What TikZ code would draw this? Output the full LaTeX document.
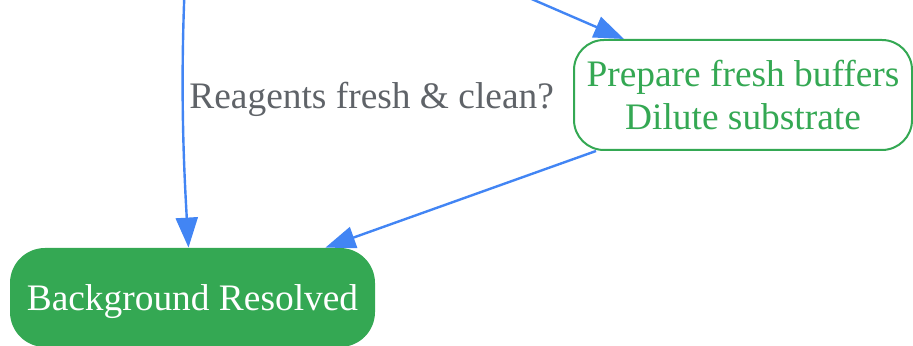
\documentclass[tikz,border=0pt]{standalone}
\usepackage{fontspec}
\setmainfont{Liberation Serif}
\usepackage{tikz}
\usepackage{xcolor}
\usetikzlibrary{arrows.meta}
\definecolor{gGreen}{HTML}{34A853}
\definecolor{gBlue}{HTML}{4285F4}
\definecolor{gGray}{HTML}{5F6368}
\tikzset{
    done-box/.style = {fill=gGreen, text=white, rectangle, rounded corners=17.5pt, minimum width=182.5pt, minimum height=49.5pt, inner sep=0pt, text depth=0pt, font=\fontsize{18.7}{21.5}\selectfont},
    step-box/.style = {draw=gGreen, line width=1pt, fill=white, text=gGreen, rectangle, rounded corners=15pt, minimum width=169pt, minimum height=55pt, inner sep=0pt, align=center, font=\fontsize{18.7}{21.5}\selectfont},
    flow-edge/.style = {draw=gBlue, line width=1.2pt, -{Triangle[length=15pt, width=11pt]}},
    edge-label/.style = {text=gGray, inner sep=0pt, font=\fontsize{18.7}{21.5}\selectfont},
}

\begin{document}
\begin{tikzpicture}[x=0.5pt, y=-0.5pt]
\useasboundingbox (0,0) rectangle (913,346);
\clip (0,0) rectangle (913,346);
\node [done-box] (bgres) at (192.5,297.5) {Background Resolved};
\node [step-box] (prep) at (743,95) {Prepare fresh buffers\\Dilute substrate};
\coordinate (from-check) at (185,-20);
\coordinate (from-top) at (520,-6);
\draw [flow-edge] (from-check) .. controls (180,90) and (184,170) .. ([xshift=-2pt]bgres.north);
\node [edge-label, anchor=base west] at (189,109) {Reagents fresh \& clean?};
\draw [flow-edge] (from-top) -- ([xshift=25.5pt]prep.north west);
\draw [flow-edge] ([xshift=11.5pt]prep.south west) -- ([xshift=-25pt]bgres.north east);
\end{tikzpicture}
\end{document}
